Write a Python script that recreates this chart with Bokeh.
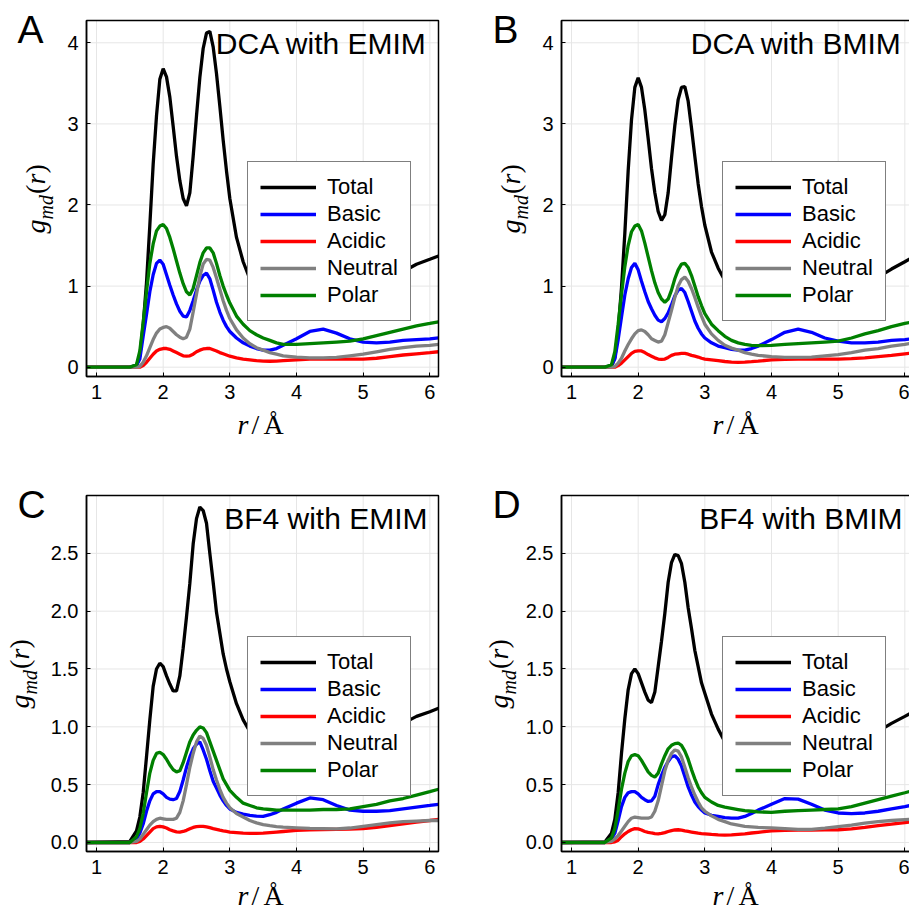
import math
from bokeh.plotting import figure
from bokeh.models import Range1d, Label, FixedTicker, Legend, LegendItem, NumeralTickFormatter
from bokeh.layouts import column, row
from bokeh.embed import file_html
from bokeh.resources import INLINE

# ---------------- data ----------------
r = [0.85, 1.5, 1.6, 1.65, 1.7, 1.75, 1.8, 1.85, 1.9, 1.95, 2.0, 2.05, 2.1, 2.15, 2.2, 2.25,
     2.3, 2.35, 2.4, 2.45, 2.5, 2.55, 2.6, 2.65, 2.7, 2.75, 2.8, 2.85, 2.9, 2.95, 3.0, 3.1,
     3.2, 3.3, 3.4, 3.5, 3.6, 3.7, 3.8, 4.0, 4.2, 4.4, 4.6, 4.8, 5.0, 5.2, 5.4, 5.6, 5.8,
     6.0, 6.13]

series_names = ["Total", "Basic", "Acidic", "Neutral", "Polar"]

# Panel A: DCA with EMIM
a_total = [0, 0, 0.02, 0.14, 0.52, 1.04, 1.75, 2.5, 3.1, 3.55, 3.68, 3.58, 3.33, 2.97, 2.6, 2.3, 2.08, 1.99, 2.15, 2.6, 3.1, 3.57, 3.93, 4.12, 4.14, 3.95, 3.62, 3.22, 2.8, 2.42, 2.08, 1.6, 1.3, 1.09, 0.95, 0.86, 0.8, 0.77, 0.77, 0.84, 0.94, 0.98, 0.95, 0.91, 0.92, 0.99, 1.08, 1.18, 1.27, 1.33, 1.37]
a_basic = [0, 0, 0.02, 0.1, 0.38, 0.65, 0.93, 1.14, 1.28, 1.32, 1.27, 1.14, 1.01, 0.89, 0.78, 0.69, 0.63, 0.62, 0.7, 0.82, 0.95, 1.06, 1.13, 1.16, 1.09, 0.95, 0.8, 0.68, 0.58, 0.5, 0.44, 0.36, 0.3, 0.26, 0.23, 0.21, 0.21, 0.23, 0.27, 0.35, 0.44, 0.47, 0.42, 0.35, 0.31, 0.3, 0.31, 0.33, 0.34, 0.35, 0.36]
a_acidic = [0, 0, 0, 0, 0.02, 0.06, 0.11, 0.16, 0.2, 0.22, 0.23, 0.23, 0.22, 0.2, 0.18, 0.16, 0.14, 0.135, 0.14, 0.16, 0.19, 0.21, 0.225, 0.23, 0.23, 0.215, 0.2, 0.18, 0.165, 0.15, 0.135, 0.115, 0.1, 0.09, 0.08, 0.075, 0.073, 0.075, 0.08, 0.09, 0.1, 0.1, 0.1, 0.1, 0.1, 0.11, 0.13, 0.15, 0.165, 0.18, 0.19]
a_neutral = [0, 0, 0, 0.01, 0.06, 0.14, 0.24, 0.34, 0.42, 0.47, 0.49, 0.5, 0.48, 0.44, 0.4, 0.37, 0.35, 0.37, 0.47, 0.68, 0.9, 1.12, 1.27, 1.33, 1.32, 1.23, 1.1, 0.96, 0.82, 0.7, 0.6, 0.46, 0.36, 0.29, 0.24, 0.21, 0.18, 0.16, 0.14, 0.125, 0.115, 0.115, 0.12, 0.14, 0.16, 0.19, 0.22, 0.24, 0.26, 0.27, 0.28]
a_polar = [0, 0, 0.03, 0.2, 0.55, 0.93, 1.28, 1.52, 1.68, 1.74, 1.76, 1.71, 1.6, 1.46, 1.31, 1.16, 1.03, 0.93, 0.89, 0.97, 1.13, 1.29, 1.41, 1.47, 1.47, 1.41, 1.28, 1.13, 1.0, 0.89, 0.79, 0.63, 0.53, 0.45, 0.4, 0.36, 0.33, 0.3, 0.28, 0.28, 0.29, 0.3, 0.31, 0.32, 0.35, 0.39, 0.43, 0.47, 0.51, 0.54, 0.56]

# Panel B: DCA with BMIM
b_total = [0, 0, 0.01, 0.12, 0.45, 0.98, 1.65, 2.42, 3.05, 3.45, 3.57, 3.45, 3.17, 2.82, 2.45, 2.15, 1.92, 1.81, 1.88, 2.15, 2.58, 2.98, 3.3, 3.45, 3.46, 3.28, 2.95, 2.6, 2.26, 1.98, 1.75, 1.42, 1.22, 1.07, 0.93, 0.85, 0.8, 0.77, 0.76, 0.83, 0.92, 0.98, 0.955, 0.91, 0.9, 0.94, 1.02, 1.11, 1.21, 1.3, 1.36]
b_basic = [0, 0, 0.02, 0.1, 0.34, 0.62, 0.89, 1.09, 1.23, 1.28, 1.2, 1.06, 0.93, 0.81, 0.72, 0.64, 0.58, 0.56, 0.6, 0.67, 0.77, 0.88, 0.95, 0.97, 0.92, 0.81, 0.69, 0.57, 0.48, 0.41, 0.36, 0.3, 0.26, 0.24, 0.22, 0.21, 0.21, 0.23, 0.26, 0.34, 0.43, 0.47, 0.43, 0.36, 0.32, 0.3, 0.3, 0.31, 0.33, 0.34, 0.35]
b_acidic = [0, 0, 0, 0, 0.02, 0.05, 0.09, 0.13, 0.17, 0.195, 0.2, 0.2, 0.18, 0.155, 0.135, 0.115, 0.1, 0.095, 0.1, 0.12, 0.145, 0.16, 0.165, 0.17, 0.17, 0.16, 0.145, 0.135, 0.125, 0.11, 0.1, 0.09, 0.08, 0.07, 0.062, 0.06, 0.062, 0.068, 0.075, 0.09, 0.095, 0.1, 0.1, 0.1, 0.1, 0.105, 0.115, 0.13, 0.145, 0.165, 0.175]
b_neutral = [0, 0, 0, 0.01, 0.05, 0.11, 0.2, 0.28, 0.35, 0.41, 0.45, 0.46, 0.44, 0.4, 0.35, 0.33, 0.31, 0.32, 0.4, 0.55, 0.7, 0.86, 1.0, 1.08, 1.11, 1.06, 0.97, 0.86, 0.74, 0.63, 0.53, 0.41, 0.33, 0.27, 0.235, 0.21, 0.18, 0.16, 0.145, 0.13, 0.12, 0.12, 0.125, 0.14, 0.155, 0.18, 0.21, 0.23, 0.26, 0.28, 0.3]
b_polar = [0, 0, 0.03, 0.19, 0.53, 0.9, 1.24, 1.5, 1.67, 1.74, 1.76, 1.68, 1.53, 1.36, 1.19, 1.04, 0.92, 0.84, 0.8, 0.84, 0.95, 1.09, 1.2, 1.27, 1.28, 1.23, 1.13, 1.0, 0.87, 0.76, 0.66, 0.53, 0.45, 0.38, 0.33, 0.3, 0.28, 0.27, 0.265, 0.27, 0.28, 0.29, 0.3, 0.31, 0.32, 0.36, 0.41, 0.45, 0.5, 0.54, 0.56]

# Panel C: BF4 with EMIM
c_total = [0, 0.01, 0.1, 0.22, 0.43, 0.74, 1.06, 1.35, 1.5, 1.55, 1.52, 1.44, 1.37, 1.31, 1.31, 1.44, 1.68, 1.95, 2.24, 2.58, 2.8, 2.9, 2.87, 2.76, 2.5, 2.25, 1.99, 1.81, 1.63, 1.5, 1.39, 1.2, 1.06, 0.96, 0.9, 0.87, 0.85, 0.84, 0.84, 0.86, 0.9, 0.91, 0.89, 0.88, 0.89, 0.92, 0.97, 1.03, 1.09, 1.13, 1.16]
c_basic = [0, 0, 0.03, 0.08, 0.16, 0.27, 0.36, 0.42, 0.44, 0.44, 0.42, 0.39, 0.375, 0.37, 0.38, 0.44, 0.54, 0.65, 0.74, 0.81, 0.85, 0.87, 0.8, 0.72, 0.62, 0.53, 0.47, 0.41, 0.36, 0.32, 0.29, 0.26, 0.245, 0.235, 0.228, 0.225, 0.24, 0.26, 0.29, 0.34, 0.385, 0.37, 0.32, 0.28, 0.27, 0.27, 0.275, 0.29, 0.305, 0.32, 0.33]
c_acidic = [0, 0, 0, 0.01, 0.03, 0.06, 0.09, 0.12, 0.135, 0.14, 0.135, 0.125, 0.11, 0.1, 0.092, 0.09, 0.095, 0.105, 0.118, 0.13, 0.137, 0.14, 0.14, 0.135, 0.128, 0.12, 0.113, 0.106, 0.1, 0.095, 0.09, 0.085, 0.08, 0.078, 0.078, 0.08, 0.085, 0.09, 0.095, 0.105, 0.11, 0.112, 0.113, 0.115, 0.12, 0.13, 0.145, 0.16, 0.175, 0.19, 0.2]
c_neutral = [0, 0, 0.01, 0.03, 0.07, 0.11, 0.15, 0.18, 0.2, 0.21, 0.205, 0.2, 0.2, 0.2, 0.21, 0.26, 0.36, 0.5, 0.65, 0.77, 0.87, 0.92, 0.9, 0.84, 0.74, 0.63, 0.54, 0.46, 0.39, 0.34, 0.3, 0.25, 0.22, 0.19, 0.17, 0.155, 0.145, 0.137, 0.132, 0.127, 0.122, 0.12, 0.118, 0.125, 0.14, 0.155, 0.17, 0.18, 0.185, 0.19, 0.19]
c_polar = [0, 0, 0.05, 0.12, 0.25, 0.43, 0.6, 0.71, 0.77, 0.78, 0.76, 0.72, 0.67, 0.63, 0.61, 0.62, 0.69, 0.78, 0.87, 0.93, 0.97, 1.0, 0.99, 0.95, 0.87, 0.79, 0.71, 0.63, 0.55, 0.5, 0.45, 0.39, 0.34, 0.32, 0.3, 0.29, 0.285, 0.28, 0.28, 0.28, 0.28, 0.285, 0.285, 0.29, 0.31, 0.33, 0.36, 0.38, 0.41, 0.44, 0.46]

# Panel D: BF4 with BMIM
d_total = [0, 0.005, 0.08, 0.2, 0.43, 0.77, 1.07, 1.32, 1.46, 1.5, 1.46, 1.38, 1.3, 1.23, 1.21, 1.3, 1.52, 1.74, 1.98, 2.25, 2.42, 2.49, 2.48, 2.41, 2.25, 2.03, 1.85, 1.66, 1.52, 1.38, 1.29, 1.11, 0.98, 0.87, 0.82, 0.78, 0.76, 0.75, 0.76, 0.8, 0.85, 0.86, 0.84, 0.82, 0.82, 0.85, 0.9, 0.96, 1.03, 1.09, 1.13]
d_basic = [0, 0, 0.03, 0.08, 0.19, 0.31, 0.39, 0.43, 0.44, 0.44, 0.42, 0.39, 0.37, 0.355, 0.36, 0.4, 0.5, 0.58, 0.65, 0.7, 0.74, 0.75, 0.72, 0.66, 0.57, 0.48, 0.41, 0.35, 0.31, 0.28, 0.255, 0.235, 0.225, 0.215, 0.21, 0.21, 0.225, 0.25, 0.28, 0.33, 0.38, 0.375, 0.33, 0.28, 0.255, 0.25, 0.255, 0.27, 0.29, 0.31, 0.325]
d_acidic = [0, 0, 0, 0.005, 0.02, 0.05, 0.075, 0.095, 0.11, 0.12, 0.117, 0.108, 0.095, 0.088, 0.082, 0.077, 0.075, 0.078, 0.085, 0.095, 0.103, 0.108, 0.11, 0.107, 0.1, 0.095, 0.09, 0.085, 0.08, 0.077, 0.075, 0.07, 0.066, 0.064, 0.065, 0.07, 0.075, 0.082, 0.088, 0.1, 0.105, 0.107, 0.108, 0.109, 0.11, 0.118, 0.13, 0.145, 0.158, 0.172, 0.18]
d_neutral = [0, 0, 0.01, 0.03, 0.06, 0.1, 0.14, 0.18, 0.21, 0.22, 0.215, 0.21, 0.21, 0.21, 0.22, 0.27, 0.36, 0.49, 0.62, 0.71, 0.77, 0.8, 0.79, 0.74, 0.65, 0.56, 0.48, 0.41, 0.35, 0.3, 0.27, 0.23, 0.2, 0.18, 0.16, 0.15, 0.14, 0.135, 0.13, 0.127, 0.12, 0.113, 0.113, 0.125, 0.138, 0.15, 0.168, 0.18, 0.19, 0.198, 0.2]
d_polar = [0, 0, 0.04, 0.12, 0.28, 0.46, 0.6, 0.7, 0.75, 0.76, 0.75, 0.71, 0.66, 0.61, 0.58, 0.565, 0.6, 0.68, 0.75, 0.81, 0.84, 0.855, 0.86, 0.84, 0.79, 0.72, 0.63, 0.55, 0.48, 0.43, 0.39, 0.35, 0.32, 0.305, 0.295, 0.285, 0.275, 0.27, 0.265, 0.26, 0.27, 0.275, 0.28, 0.285, 0.29, 0.31, 0.34, 0.37, 0.4, 0.43, 0.45]

x_ticks = [1, 2, 3, 4, 5, 6]
y_ticks_dca = [0, 1, 2, 3, 4]
y_ticks_bf4 = [0, 0.5, 1.0, 1.5, 2.0, 2.5]

panel_letters = ["A", "B", "C", "D"]
panel_titles = ["DCA with EMIM", "DCA with BMIM", "BF4 with EMIM", "BF4 with BMIM"]

# ---------------- styling / layout ----------------
COLORS = ["#000000", "#0000ff", "#ff0000", "#808080", "#008000"]
SANS = "Liberation Sans"
SERIF = "Liberation Serif"
BOX_W, BOX_H = 352, 356          # plot box size in px
X0, X1 = 0.85, 6.13              # plot box x limits
PXX = BOX_W / (X1 - X0)
SHIFT = 0.4                      # observed baseline offset of Label text (in em)


def make_panel(letter, title, ys, ylim, yticks, yfmt, left_col, top_row):
    W = 483 if left_col else 426
    H = 483 if top_row else 433
    L = 86 if left_col else 78       # box left inside the canvas
    T = 20 if top_row else 12        # box top inside the canvas
    y0, y1 = ylim
    spy = BOX_H / (y1 - y0)
    xr = Range1d(X0 - L / PXX, X0 + (W - L) / PXX)
    yr = Range1d(y0 - (H - T - BOX_H) / spy, y1 + T / spy)
    p = figure(width=W, height=H, x_range=xr, y_range=yr,
               output_backend="svg", toolbar_location=None, min_border=0,
               background_fill_color="white", border_fill_color="white")
    p.outline_line_color = None
    p.xgrid.visible = False
    p.ygrid.visible = False

    def to_data(dx, dy):
        return X0 + dx / PXX, y1 - dy / spy

    # grid lines inside the plot box, at the tick positions
    p.segment(x0=x_ticks, y0=[y0] * len(x_ticks), x1=x_ticks, y1=[y1] * len(x_ticks),
              line_color="#e6e6e6", line_width=1)
    p.segment(x0=[X0] * len(yticks), y0=yticks, x1=[X1] * len(yticks), y1=yticks,
              line_color="#e6e6e6", line_width=1)

    # axes pinned to the box edges
    p.xaxis.fixed_location = y0
    p.yaxis.fixed_location = X0
    p.xaxis.bounds = (X0, X1)
    p.yaxis.bounds = (y0, y1)
    p.xaxis.ticker = FixedTicker(ticks=x_ticks)
    p.yaxis.ticker = FixedTicker(ticks=yticks)
    p.yaxis.formatter = NumeralTickFormatter(format=yfmt)
    p.xaxis.formatter = NumeralTickFormatter(format="0")
    for ax in (p.xaxis[0], p.yaxis[0]):
        ax.axis_line_color = "black"
        ax.axis_line_width = 1.5
        ax.major_tick_in = 4
        ax.major_tick_out = 0
        ax.major_tick_line_color = "black"
        ax.major_tick_line_width = 1
        ax.minor_tick_line_color = None
        ax.major_label_text_font = SANS
        ax.major_label_text_font_size = "20px"
        ax.major_label_text_color = "black"
        ax.major_label_standoff = 8

    items = []
    for name, col, yv in zip(series_names, COLORS, ys):
        rend = p.line(r, yv, line_color=col, line_width=3.3)
        items.append(LegendItem(label=name, renderers=[rend]))

    # plot box border
    p.quad(left=[X0], right=[X1], bottom=[y0], top=[y1], fill_color=None,
           line_color="black", line_width=1.5)

    legend = Legend(items=items, location=(L + 161, H - T - 301), orientation="vertical",
                    label_text_font=SANS, label_text_font_size="22px",
                    label_text_color="black", glyph_width=56, glyph_height=26,
                    label_height=26, label_standoff=11, padding=12, spacing=1,
                    margin=0, border_line_color="black", border_line_width=1.5,
                    background_fill_color="white", background_fill_alpha=1.0)
    p.add_layout(legend)

    def dlabel(txt, dx, dy, font, size, style="normal", align="left", rotated=False):
        s = SHIFT * size
        if rotated:
            x, y = to_data(dx - s, dy)
        else:
            x, y = to_data(dx, dy - s)
        p.add_layout(Label(x=x, y=y, text=txt, text_font=font, text_font_size=f"{size}px",
                           text_font_style=style, angle=(math.pi / 2 if rotated else 0.0),
                           text_align=align, text_baseline="alphabetic", text_color="black"))

    # title inside the box, panel letter outside it
    dlabel(title, 341, 35, SANS, 30, align="right")
    dlabel(letter, -69, 25, SANS, 39)
    # x axis label: r / Å  (baseline position below the box)
    xb = 415 if top_row else 411
    dlabel("r", 151, xb, SERIF, 28, "italic")
    dlabel("/", 165, xb, SERIF, 28)
    dlabel("Å", 177, xb, SERIF, 28)
    # y axis label: g_md(r), rotated; further left where tick labels are wider
    if top_row:
        yb = -40
    else:
        yb = -56 if left_col else -52
    dlabel("g", yb, 213, SERIF, 28, "italic", rotated=True)
    dlabel("md", yb + 7, 199, SERIF, 20, "italic", rotated=True)
    dlabel("(", yb, 173.5, SERIF, 28, rotated=True)
    dlabel("r", yb, 164, SERIF, 28, "italic", rotated=True)
    dlabel(")", yb, 153, SERIF, 28, rotated=True)
    return p


pa = make_panel(panel_letters[0], panel_titles[0],
                [a_total, a_basic, a_acidic, a_neutral, a_polar],
                (-0.115, 4.275), y_ticks_dca, "0", True, True)
pb = make_panel(panel_letters[1], panel_titles[1],
                [b_total, b_basic, b_acidic, b_neutral, b_polar],
                (-0.115, 4.275), y_ticks_dca, "0", False, True)
pc = make_panel(panel_letters[2], panel_titles[2],
                [c_total, c_basic, c_acidic, c_neutral, c_polar],
                (-0.078, 3.0), y_ticks_bf4, "0.0", True, False)
pd_ = make_panel(panel_letters[3], panel_titles[3],
                 [d_total, d_basic, d_acidic, d_neutral, d_polar],
                 (-0.078, 3.0), y_ticks_bf4, "0.0", False, False)

layout = column(row(pa, pb), row(pc, pd_))
open("out.html", "w").write(file_html(layout, INLINE))
